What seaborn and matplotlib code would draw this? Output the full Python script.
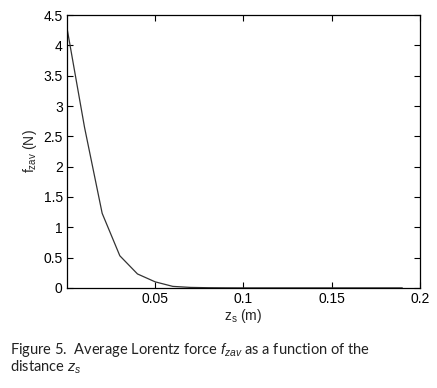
import matplotlib
matplotlib.use("Agg")
import matplotlib.pyplot as plt
import pandas as pd
import seaborn as sns

# distance z_s (m) and average Lorentz force f_zav (N)
z_s = [0.0, 0.01, 0.02, 0.03, 0.04, 0.05, 0.06, 0.07, 0.08, 0.09,
       0.10, 0.11, 0.12, 0.13, 0.14, 0.15, 0.16, 0.17, 0.18, 0.19]
f_zav = [4.3, 2.65, 1.23, 0.53, 0.23, 0.10, 0.025, 0.008, 0.003, 0.001,
         0.0, 0.0, 0.0, 0.0, 0.0, 0.0, 0.0, 0.0, 0.0, 0.0]
x_ticks = [0.05, 0.1, 0.15, 0.2]
y_ticks = [0, 0.5, 1, 1.5, 2, 2.5, 3, 3.5, 4, 4.5]

df = pd.DataFrame({"z_s": z_s, "f_zav": f_zav})

sns.set_style("ticks")
plt.rcParams["font.family"] = ["Liberation Sans", "DejaVu Sans"]
plt.rcParams["mathtext.fontset"] = "custom"
plt.rcParams["mathtext.rm"] = "Liberation Sans"
plt.rcParams["mathtext.it"] = "Liberation Sans:italic"

fig = plt.figure(figsize=(4.37, 3.88), dpi=100)
ax = fig.add_axes([0.153, 0.258, 0.808, 0.703])

sns.lineplot(data=df, x="z_s", y="f_zav", ax=ax, color="#333333", linewidth=0.9)

ax.set_xlim(0, 0.2)
ax.set_ylim(0, 4.5)
ax.set_xticks(x_ticks)
ax.set_xticklabels(["0.05", "0.1", "0.15", "0.2"])
ax.set_yticks(y_ticks)
ax.set_yticklabels(["0", "0.5", "1", "1.5", "2", "2.5", "3", "3.5", "4", "4.5"])
ax.tick_params(direction="in", length=4.5, width=0.8, labelsize=10, colors="black",
               top=True, right=True, pad=3)
for sp in ax.spines.values():
    sp.set_visible(True)
    sp.set_linewidth(0.9)
    sp.set_color("black")

ax.set_xlabel(r"z$_\mathrm{s}$ (m)", fontsize=10, labelpad=1)
ax.set_ylabel(r"f$_\mathrm{zav}$ (N)", fontsize=10, labelpad=3)

fig.text(0.022, 0.088, r"Figure 5.  Average Lorentz force $\mathit{f}_{zav}$ as a function of the",
         fontsize=10.5, family=["Lato", "DejaVu Sans"], color="#222222")
fig.text(0.022, 0.042, r"distance $\mathit{z}_s$",
         fontsize=10.5, family=["Lato", "DejaVu Sans"], color="#222222")

fig.savefig("out.png", dpi=100)
